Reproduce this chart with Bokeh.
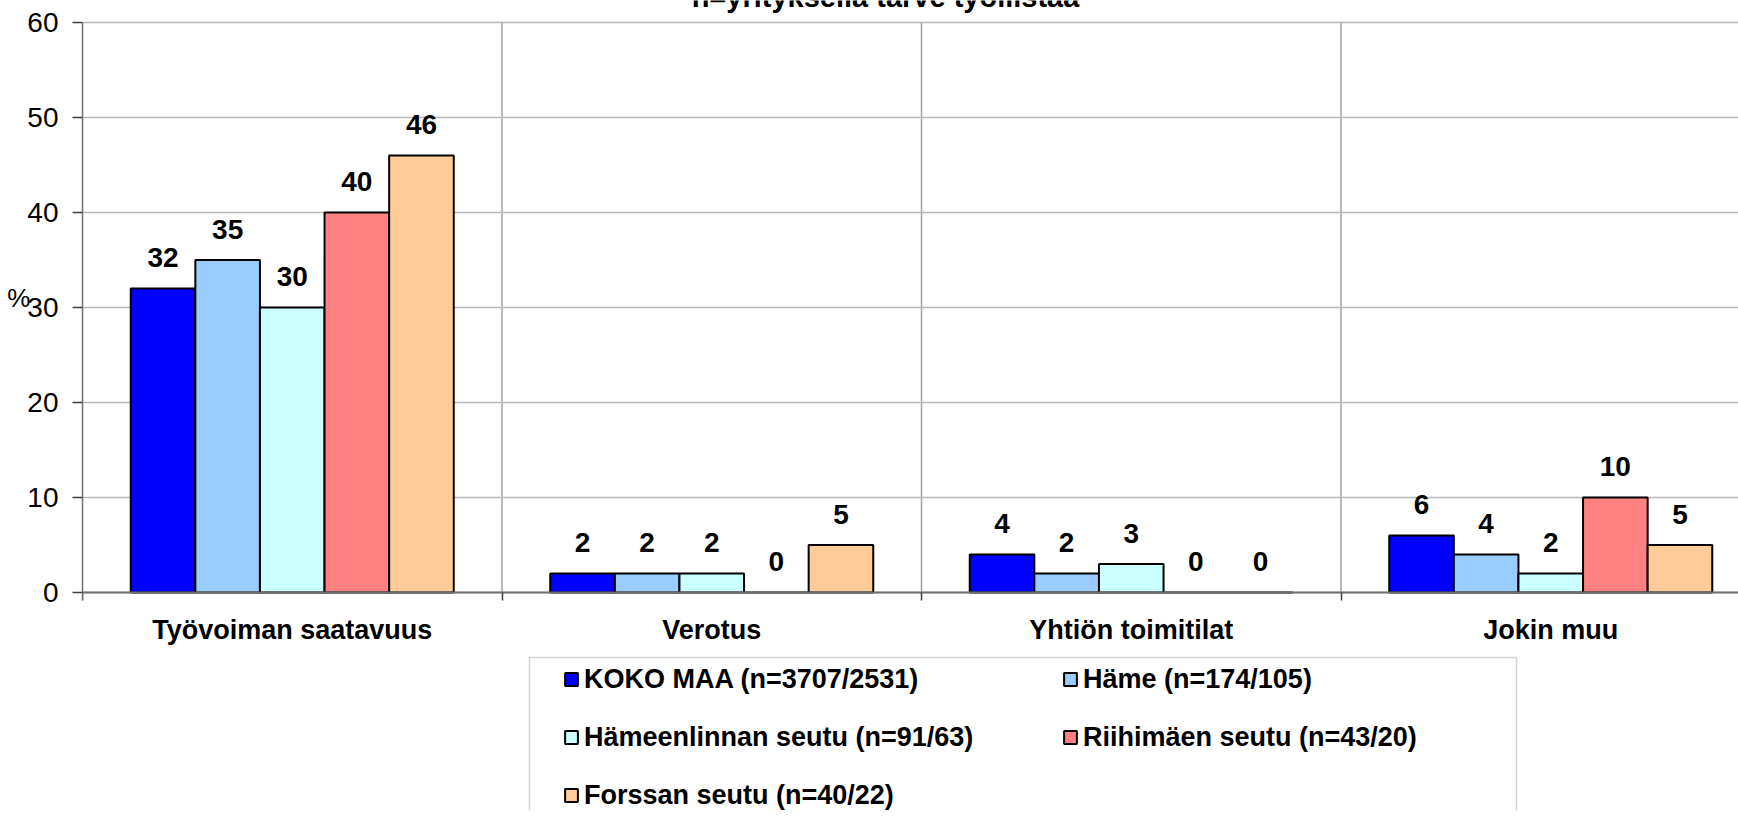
from bokeh.plotting import figure
from bokeh.models import (ColumnDataSource, Range1d, FixedTicker, LabelSet, Label,
                          BoxAnnotation)
from bokeh.core.properties import value
from bokeh.transform import dodge
from bokeh.embed import file_html
from bokeh.resources import INLINE

categories = ["Työvoiman saatavuus", "Verotus", "Yhtiön toimitilat", "Jokin muu"]
series_names = ["KOKO MAA (n=3707/2531)", "Häme (n=174/105)",
                "Hämeenlinnan seutu (n=91/63)", "Riihimäen seutu (n=43/20)",
                "Forssan seutu (n=40/22)"]
koko_maa = [32, 2, 4, 6]
hame = [35, 2, 2, 4]
hameenlinna = [30, 2, 3, 2]
riihimaki = [40, 0, 0, 10]
forssa = [46, 5, 0, 5]
y_ticks = [0, 10, 20, 30, 40, 50, 60]
title_text = "n=yrityksellä tarve työllistää"
y_title = "%"

series = [koko_maa, hame, hameenlinna, riihimaki, forssa]
colors = ["#0000FF", "#99CCFF", "#CCFFFF", "#FF8080", "#FFCC99"]
FONT = "Liberation Sans"

# layout (canvas pixels)
W, H = 1738, 822
FL = 82                   # frame left
FB = 810                  # frame bottom
PX_PER_UNIT = 9.5
ZERO_Y = 592              # canvas y of value 0
CAT_PX = 419.5            # pixels per category

xs = [i + 0.5 for i in range(len(categories))]
data = {"x": xs}
for j, s in enumerate(series):
    data[f"s{j}"] = s
    data[f"t{j}"] = [str(v) for v in s]
src = ColumnDataSource(data)
cat_src = ColumnDataSource({"x": xs, "y": [0] * len(xs), "name": categories})

ymax = max(y_ticks)
p = figure(width=W, height=H, title=None,
           x_range=Range1d(0, (W - FL) / CAT_PX),
           y_range=Range1d(-(FB - ZERO_Y) / PX_PER_UNIT,
                           ZERO_Y / PX_PER_UNIT),
           output_backend="svg", toolbar_location=None,
           min_border_left=FL, min_border_right=0, min_border_top=0,
           min_border_bottom=H - FB)
p.outline_line_color = None
p.background_fill_color = "white"

# vertical separators between categories
bounds_x = [1, 2, 3]
p.segment(x0=bounds_x, x1=bounds_x, y0=[min(y_ticks)] * 3, y1=[ymax] * 3,
          line_color="#a0a0a0", line_width=1.5, level="underlay")

bar_w = 0.154
for j in range(len(series)):
    off = (j - 2) * bar_w
    p.vbar(x=dodge("x", off, range=p.x_range), top=f"s{j}", width=bar_w, source=src,
           fill_color=colors[j], line_color="black", line_width=2,
           legend_label=series_names[j])
    p.add_layout(LabelSet(x=dodge("x", off, range=p.x_range), y=f"s{j}", text=f"t{j}",
                          source=src, y_offset=31, text_align="center",
                          text_baseline="middle", text_font=value(FONT),
                          text_font_size="28px", text_font_style="bold",
                          text_color="black"))

# category labels under the axis
p.add_layout(LabelSet(x="x", y="y", text="name", source=cat_src, y_offset=-37,
                      text_align="center", text_baseline="middle", text_font=value(FONT),
                      text_font_size="27px", text_font_style="bold", text_color="black"))

# y axis
yax = p.yaxis[0]
yax.ticker = FixedTicker(ticks=y_ticks)
yax.bounds = (min(y_ticks) - 8 / PX_PER_UNIT, ymax)
yax.major_label_text_font = FONT
yax.major_label_text_font_size = "28px"
yax.major_label_text_color = "black"
yax.axis_line_color = "#707070"
yax.axis_line_width = 1.5
yax.major_tick_line_color = "#404040"
yax.major_tick_line_width = 1.5
yax.major_tick_out = 10
yax.major_tick_in = 0
yax.minor_tick_line_color = None
yax.major_label_standoff = 14
if "axis_label_orientation" in yax.properties():
    # extra empty lines lift the "%" from the frame middle up to the 30 level
    yax.axis_label = y_title + "\n \n \n \n \n \n "
    yax.axis_label_orientation = "horizontal"
    yax.axis_label_standoff = -6
    yax.axis_label_text_font = FONT
    yax.axis_label_text_font_size = "26px"
    yax.axis_label_text_font_style = "normal"
    yax.axis_label_text_color = "black"

# x axis drawn at value 0
xax = p.xaxis[0]
xax.fixed_location = 0
xax.ticker = FixedTicker(ticks=[], minor_ticks=[0, 1, 2, 3, 4])
xax.axis_line_color = "#707070"
xax.axis_line_width = 2
xax.major_tick_out = 0
xax.major_tick_in = 0
xax.minor_tick_line_color = "#404040"
xax.minor_tick_line_width = 1.5
xax.minor_tick_out = 8
xax.minor_tick_in = 0

# grids
p.ygrid.ticker = FixedTicker(ticks=y_ticks)
p.ygrid.grid_line_color = "#b8b8b8"
p.ygrid.grid_line_width = 1.5
p.xgrid.visible = False

# title (cut off at the top edge, as in the original)
p.add_layout(Label(x=885 - FL, y=FB + 3.5, x_units="screen", y_units="screen", text=title_text,
                   text_align="center", text_baseline="alphabetic", text_font=FONT,
                   text_font_size="29px", text_font_style="bold", text_color="black"))

# legend frame
p.add_layout(BoxAnnotation(left=529, right=1516, top=657, bottom=900,
                           left_units="canvas", right_units="canvas",
                           top_units="canvas", bottom_units="canvas",
                           fill_color=None, fill_alpha=0, line_color="#707070",
                           line_width=1.5))

lg = p.legend[0]
lg.orientation = "horizontal"
lg.ncols = 2
lg.location = (563 - FL, FB - 815)
lg.border_line_color = None
lg.background_fill_alpha = 0
lg.padding = 0
lg.margin = 0
lg.spacing = 18
lg.glyph_width = 16
lg.glyph_height = 16
lg.label_standoff = 5
lg.label_width = 460
lg.label_height = 40
lg.label_text_font = FONT
lg.label_text_font_size = "27px"
lg.label_text_font_style = "bold"
lg.label_text_color = "black"

open("out.html", "w").write(file_html(p, INLINE))
